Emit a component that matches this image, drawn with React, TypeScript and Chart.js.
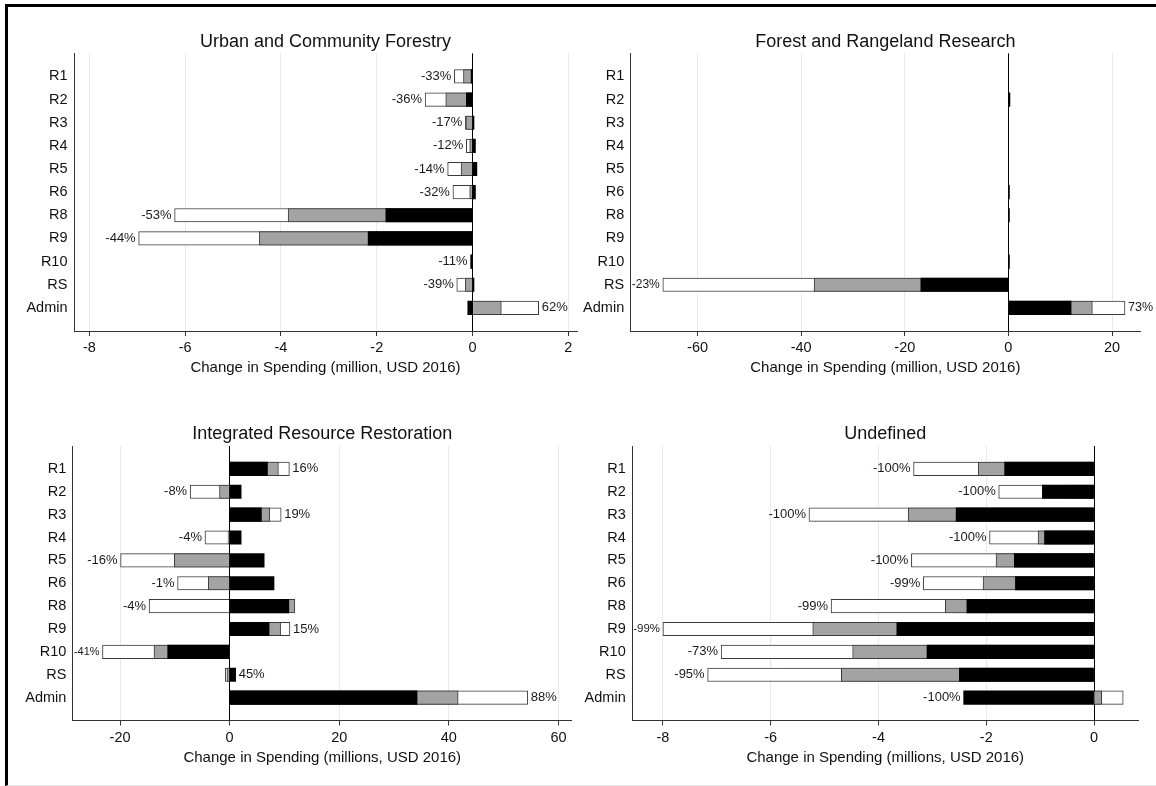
import React, { useEffect, useRef } from 'react';
import { Chart, registerables } from 'chart.js';

Chart.register(...registerables);

const FONT = '"Liberation Sans", Arial, Helvetica, sans-serif';
Chart.defaults.font.family = FONT;
Chart.defaults.color = '#111';

// Regions shown on every panel (top to bottom)
const categories = ['R1', 'R2', 'R3', 'R4', 'R5', 'R6', 'R8', 'R9', 'R10', 'RS', 'Admin'];

// Urban and Community Forestry (million USD 2016)
const urbanStage1 = [-0.03, -0.13, 0.03, 0.06, 0.09, 0.06, -1.81, -2.18, -0.04, 0.03, -0.1];
const urbanStage2 = [-0.19, -0.56, -0.14, -0.06, -0.24, -0.06, -3.85, -4.45, -0.02, -0.15, 0.6];
const urbanStage3 = [-0.38, -0.99, -0.15, -0.13, -0.52, -0.41, -6.22, -6.97, -0.03, -0.33, 1.38];
const urbanPct = [-33, -36, -17, -12, -14, -32, -53, -44, -11, -39, 62];
const urbanTicks = [-8, -6, -4, -2, 0, 2];

// Forest and Rangeland Research
const researchStage1 = [0, 0.3, 0, 0, 0, 0.2, 0.2, 0, 0.2, -16.9, 12.1];
const researchStage2 = [0, 0, 0, 0, 0, 0, 0, 0, 0, -37.5, 16.2];
const researchStage3 = [0, 0, 0, 0, 0, 0, 0, 0, 0, -66.7, 22.5];
const researchPct = [null, null, null, null, null, null, null, null, null, -23, 73];
const researchTicks = [-60, -40, -20, 0, 20];

// Integrated Resource Restoration
const restorationStage1 = [6.9, 2.1, 5.8, 2.1, 6.3, 8.1, 10.8, 7.2, -11.3, 1.1, 34.2];
const restorationStage2 = [8.9, -1.85, 7.3, -0.3, -10.1, -3.9, 11.9, 9.3, -13.8, -0.5, 41.7];
const restorationStage3 = [10.9, -7.2, 9.4, -4.5, -19.9, -9.5, -14.7, 11.0, -23.2, -0.8, 54.4];
const restorationPct = [16, -8, 19, -4, -16, -1, -4, 15, -41, 45, 88];
const restorationTicks = [-20, 0, 20, 40, 60];

// Undefined
const undefinedStage1 = [-1.66, -0.96, -2.56, -0.92, -1.48, -1.46, -2.36, -3.66, -3.1, -2.5, -2.42];
const undefinedStage2 = [-2.15, -0.5, -3.45, -1.04, -1.82, -2.06, -2.76, -5.22, -4.48, -4.69, 0.14];
const undefinedStage3 = [-3.35, -1.77, -5.29, -1.94, -3.39, -3.17, -4.88, -8.0, -6.92, -7.17, 0.54];
const undefinedPct = [-100, -100, -100, -100, -100, -99, -99, -99, -73, -95, -100];
const undefinedTicks = [-8, -6, -4, -2, 0];

type Box = { left: number; top: number; width: number; height: number };
type Plot = { left: number; right: number; top: number; bottom: number };

type PanelSpec = {
  title: string;
  axisTitle: string;
  stage1: number[];
  stage2: number[];
  stage3: number[];
  pct: (number | null)[];
  ticks: number[];
  min: number;
  max: number;
  canvas: Box;
  plot: Plot;
  titleY: number;
  axisTitleY: number;
};

const panels: PanelSpec[] = [
  {
    title: 'Urban and Community Forestry',
    axisTitle: 'Change in Spending (million, USD 2016)',
    stage1: urbanStage1, stage2: urbanStage2, stage3: urbanStage3, pct: urbanPct,
    ticks: urbanTicks, min: -8.32, max: 2.18,
    canvas: { left: 8, top: 8, width: 570, height: 382 },
    plot: { left: 74, right: 577, top: 53.3, bottom: 331 },
    titleY: 41.7, axisTitleY: 368,
  },
  {
    title: 'Forest and Rangeland Research',
    axisTitle: 'Change in Spending (million, USD 2016)',
    stage1: researchStage1, stage2: researchStage2, stage3: researchStage3, pct: researchPct,
    ticks: researchTicks, min: -72.9, max: 25.4,
    canvas: { left: 578, top: 8, width: 578, height: 382 },
    plot: { left: 630.7, right: 1140, top: 53.3, bottom: 331 },
    titleY: 41.7, axisTitleY: 368,
  },
  {
    title: 'Integrated Resource Restoration',
    axisTitle: 'Change in Spending (millions, USD 2016)',
    stage1: restorationStage1, stage2: restorationStage2, stage3: restorationStage3, pct: restorationPct,
    ticks: restorationTicks, min: -28.6, max: 62.4,
    canvas: { left: 8, top: 390, width: 570, height: 394 },
    plot: { left: 72.9, right: 571.6, top: 446, bottom: 720.5 },
    titleY: 434, axisTitleY: 758,
  },
  {
    title: 'Undefined',
    axisTitle: 'Change in Spending (millions, USD 2016)',
    stage1: undefinedStage1, stage2: undefinedStage2, stage3: undefinedStage3, pct: undefinedPct,
    ticks: undefinedTicks, min: -8.57, max: 0.82,
    canvas: { left: 578, top: 390, width: 578, height: 394 },
    plot: { left: 632.2, right: 1138.3, top: 446, bottom: 720.5 },
    titleY: 434, axisTitleY: 758,
  },
];

const TITLE_SIZE = 18;
const AXIS_TITLE_SIZE = 15;
const TICK_SIZE = 14.5;
const LABEL_SIZE = 13;
const GRID_COLOR = '#e3ecef';
const AXIS_COLOR = '#333';
const OUTLINE = '#3a3a3a';

// Writes the percentage next to the outer end of each bar group.
const pctLabelPlugin = {
  id: 'pctLabels',
  afterDatasetsDraw(chart: any, _args: any, opts: any) {
    const { ctx, chartArea } = chart;
    const xs = chart.scales.x;
    const ys = chart.scales.y;
    const values: (number | null)[] = opts.values || [];
    ctx.save();
    ctx.fillStyle = '#1a1a1a';
    ctx.textBaseline = 'middle';
    values.forEach((p, i) => {
      if (p === null || p === undefined) return;
      const idx = i + 1;
      const nums = chart.data.datasets.map((ds: any) => Number(ds.data[idx]) || 0);
      const lo = Math.min(0, ...nums);
      const hi = Math.max(0, ...nums);
      const y = ys.getPixelForValue(idx);
      const text = `${p}%`;
      ctx.font = `${LABEL_SIZE}px ${FONT}`;
      const w = ctx.measureText(text).width;
      if (p < 0) {
        const xEnd = xs.getPixelForValue(lo) - 3;
        const avail = xEnd - chartArea.left - 1;
        const size = w > avail ? (LABEL_SIZE * avail) / w : LABEL_SIZE;
        ctx.font = `${size}px ${FONT}`;
        ctx.textAlign = 'right';
        ctx.fillText(text, xEnd, y);
      } else {
        const xStart = xs.getPixelForValue(hi) + 3;
        const avail = chart.width - 3 - xStart;
        const size = w > avail ? (LABEL_SIZE * avail) / w : LABEL_SIZE;
        ctx.font = `${size}px ${FONT}`;
        ctx.textAlign = 'left';
        ctx.fillText(text, xStart, y);
      }
    });
    ctx.restore();
  },
};

function buildConfig(spec: PanelSpec): any {
  const { canvas, plot } = spec;
  const titleLh = TITLE_SIZE * 1.2;
  const axisTitleLh = AXIS_TITLE_SIZE * 1.2;
  const tickLh = TICK_SIZE * 1.2;
  const axisTitlePadBottom = 4;
  const xAxisHeight = spec.axisTitleY - plot.bottom + axisTitleLh / 2 + axisTitlePadBottom;
  const yAxisWidth = plot.left - canvas.left;
  const padRight = canvas.left + canvas.width - plot.right;
  const padBottom = canvas.top + canvas.height - plot.bottom - xAxisHeight;
  const tickLength = 5;
  const tickPadding = 17.3 - tickLength - tickLh / 2;

  const labels = ['', ...categories, ''];
  const pad = (arr: number[]) => [null, ...arr, null];

  return {
    type: 'bar',
    data: {
      labels,
      datasets: [
        {
          data: pad(spec.stage1),
          backgroundColor: '#000',
          borderColor: '#000',
          borderWidth: 0,
          grouped: false,
          barThickness: 13.5,
        },
        {
          data: pad(spec.stage2),
          backgroundColor: '#a3a3a3',
          borderColor: OUTLINE,
          borderWidth: 1,
          grouped: false,
          barThickness: 13.5,
        },
        {
          data: pad(spec.stage3),
          backgroundColor: '#ffffff',
          borderColor: OUTLINE,
          borderWidth: 1,
          grouped: false,
          barThickness: 13.5,
        },
      ],
    },
    options: {
      indexAxis: 'y',
      animation: false,
      responsive: false,
      maintainAspectRatio: false,
      events: [],
      layout: { padding: { left: 0, right: padRight, top: 0, bottom: padBottom } },
      plugins: {
        legend: { display: false },
        tooltip: { enabled: false },
        title: {
          display: true,
          text: spec.title,
          fullSize: false,
          color: '#111',
          font: { size: TITLE_SIZE, weight: 'normal', family: FONT },
          padding: {
            top: spec.titleY - canvas.top - titleLh / 2,
            bottom: plot.top - spec.titleY - titleLh / 2,
          },
        },
        pctLabels: { values: spec.pct },
      },
      scales: {
        x: {
          type: 'linear',
          min: spec.min,
          max: spec.max,
          afterBuildTicks: (scale: any) => {
            scale.ticks = spec.ticks.map((v) => ({ value: v }));
          },
          afterFit: (scale: any) => {
            scale.height = xAxisHeight;
          },
          ticks: {
            font: { size: TICK_SIZE, family: FONT },
            color: '#111',
            padding: tickPadding,
            maxRotation: 0,
            callback: (v: any) => String(v),
          },
          grid: {
            color: (ctx: any) => (ctx.tick && ctx.tick.value === 0 ? '#000' : GRID_COLOR),
            lineWidth: 1,
            tickColor: AXIS_COLOR,
            tickLength,
            drawTicks: true,
          },
          border: { display: true, color: AXIS_COLOR, width: 1 },
          title: {
            display: true,
            text: spec.axisTitle,
            color: '#111',
            font: { size: AXIS_TITLE_SIZE, family: FONT },
            padding: { top: 0, bottom: axisTitlePadBottom },
          },
        },
        y: {
          type: 'category',
          offset: false,
          afterFit: (scale: any) => {
            scale.width = yAxisWidth;
          },
          ticks: {
            autoSkip: false,
            font: { size: TICK_SIZE, family: FONT },
            color: '#111',
            padding: 6.5,
          },
          grid: { display: false, drawTicks: false },
          border: { display: true, color: AXIS_COLOR, width: 1 },
        },
      },
    },
    plugins: [pctLabelPlugin],
  };
}

function Panel({ spec }: { spec: PanelSpec }) {
  const ref = useRef<HTMLCanvasElement>(null);
  useEffect(() => {
    if (!ref.current) return;
    const chart = new Chart(ref.current, buildConfig(spec));
    return () => chart.destroy();
  }, [spec]);
  const { left, top, width, height } = spec.canvas;
  return (
    <canvas
      ref={ref}
      width={width}
      height={height}
      style={{ position: 'absolute', left, top, width, height }}
    />
  );
}

export default function App() {
  return (
    <div style={{ position: 'absolute', left: 0, top: 0, width: 1156, height: 786, background: '#fff', overflow: 'hidden' }}>
      <div
        style={{
          position: 'absolute',
          left: 5,
          top: 4,
          width: 1151,
          height: 782,
          boxSizing: 'border-box',
          borderTop: '3px solid #000',
          borderLeft: '3px solid #000',
          borderBottom: '1px solid #e2e2e2',
        }}
      />
      {panels.map((p) => (
        <Panel key={p.title} spec={p} />
      ))}
    </div>
  );
}
